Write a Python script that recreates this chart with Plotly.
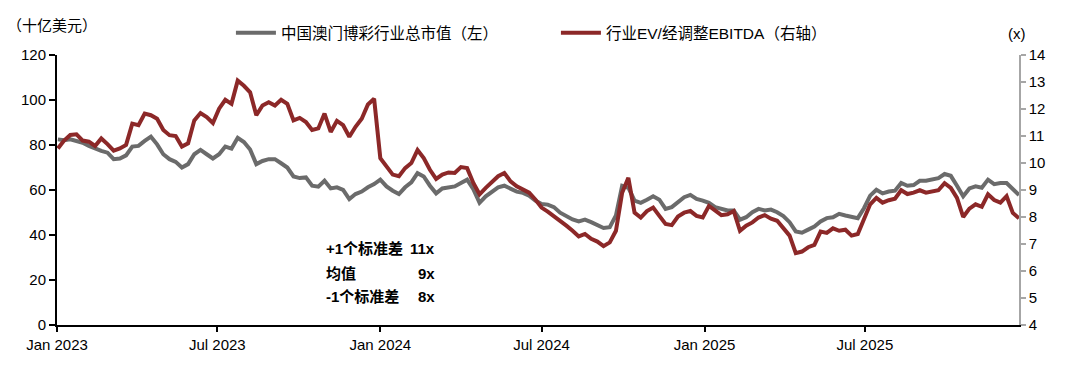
import plotly.graph_objects as go
import pandas as pd

# 中国澳门博彩行业总市值（十亿美元，左轴）— weekly readings
market_cap = [
    82.5, 82.1, 82.5, 81.9, 81.0, 79.6, 78.4, 77.4, 76.6, 73.7,
    74.0, 75.4, 79.3, 79.6, 81.8, 83.7, 80.3, 75.9, 73.7, 72.5,
    70.0, 71.5, 75.9, 77.8, 75.9, 74.0, 75.9, 79.3, 78.4, 83.2,
    81.3, 78.0, 71.5, 72.9, 73.7, 73.7, 71.9, 70.0, 66.0, 65.3,
    65.6, 61.9, 61.5, 64.1, 60.7, 61.2, 60.1, 56.0, 58.2, 59.3,
    61.2, 62.6, 64.6, 61.6, 59.7, 58.2, 61.2, 63.4, 67.5, 66.0,
    61.9, 58.5, 60.7, 61.2, 61.6, 63.1, 64.6, 60.4, 54.3, 57.2,
    59.0, 61.2, 61.9, 60.4, 59.3, 58.7, 57.5, 55.3, 53.8, 53.5,
    52.4, 49.9, 48.4, 46.9, 46.0, 46.8, 45.7, 44.3, 43.1, 43.5,
    48.7, 61.9, 61.0, 55.3, 54.3, 55.7, 57.2, 55.7, 51.6, 52.4,
    54.6, 56.8, 57.8, 56.0, 55.3, 54.3, 52.4, 51.6, 50.9, 50.9,
    46.8, 47.9, 50.1, 51.6, 50.9, 51.3, 50.1, 48.4, 45.7, 41.6,
    41.0, 42.4, 43.8, 46.0, 47.5, 47.9, 49.4, 48.7, 47.9, 47.5,
    51.9, 57.5, 60.1, 58.5, 59.3, 59.7, 63.1, 61.9, 62.2, 64.1,
    64.1, 64.6, 65.3, 67.1, 66.3, 61.9, 57.2, 60.7, 61.6, 61.0,
    64.6, 62.6, 63.1, 63.1, 60.7, 57.8,
]

# 行业EV/经调整EBITDA（x，右轴）— weekly readings
ev_ebitda = [
    10.54, 10.83, 11.04, 11.06, 10.83, 10.79, 10.63, 10.91, 10.70, 10.46,
    10.54, 10.67, 11.46, 11.40, 11.83, 11.77, 11.64, 11.22, 11.03, 11.00,
    10.61, 10.73, 11.58, 11.85, 11.70, 11.48, 12.01, 12.34, 12.19, 13.05,
    12.86, 12.62, 11.77, 12.13, 12.25, 12.13, 12.34, 12.19, 11.58, 11.67,
    11.52, 11.22, 11.28, 11.83, 11.15, 11.56, 11.40, 10.97, 11.34, 11.64,
    12.17, 12.38, 10.18, 9.85, 9.57, 9.51, 9.81, 10.00, 10.48, 10.18,
    9.75, 9.41, 9.57, 9.65, 9.63, 9.85, 9.81, 9.26, 8.84, 9.08,
    9.32, 9.51, 9.63, 9.32, 9.14, 9.02, 8.90, 8.65, 8.35, 8.20,
    8.04, 7.86, 7.68, 7.49, 7.28, 7.37, 7.19, 7.09, 6.92, 7.06,
    7.49, 8.90, 9.45, 8.16, 7.98, 8.22, 8.35, 8.04, 7.74, 7.70,
    8.02, 8.16, 8.22, 8.04, 7.98, 8.41, 8.22, 8.07, 8.10, 8.22,
    7.49, 7.68, 7.80, 7.98, 8.07, 7.94, 7.86, 7.61, 7.31, 6.66,
    6.72, 6.88, 6.97, 7.46, 7.41, 7.58, 7.49, 7.53, 7.31, 7.37,
    7.90, 8.47, 8.71, 8.53, 8.62, 8.68, 8.99, 8.85, 8.90, 8.99,
    8.90, 8.96, 8.99, 9.25, 9.08, 8.71, 8.00, 8.31, 8.47, 8.38,
    8.84, 8.63, 8.53, 8.77, 8.15, 7.95,
]

start_date = "2023-01-02"
dates = pd.date_range(start_date, periods=len(market_cap), freq="7D")

series_names = ["中国澳门博彩行业总市值（左）", "行业EV/经调整EBITDA（右轴）"]
stat_labels = ["+1个标准差", "均值", "-1个标准差"]
stat_values = ["11x", "9x", "8x"]
left_unit = "（十亿美元）"
right_unit = "(x)"

FONT = "Liberation Sans, Arial, Noto Sans CJK SC, sans-serif"
GRAY = "#6B6B6B"
RED = "#8C2828"

fig = go.Figure()
fig.add_trace(go.Scatter(x=dates, y=market_cap, name=series_names[0], mode="lines",
                         line=dict(color=GRAY, width=4), yaxis="y"))
fig.add_trace(go.Scatter(x=dates, y=ev_ebitda, name=series_names[1], mode="lines",
                         line=dict(color=RED, width=4), yaxis="y2"))

annotations = [
    dict(text=left_unit, xref="paper", yref="paper", x=-0.005, y=1.110,
         xanchor="center", yanchor="middle", showarrow=False, font=dict(size=15, color="#000")),
    dict(text=right_unit, xref="paper", yref="paper", x=0.998, y=1.0785,
         xanchor="center", yanchor="middle", showarrow=False, font=dict(size=15, color="#000")),
]
stat_y = [0.283, 0.191, 0.107]
for lab, val, yy in zip(stat_labels, stat_values, stat_y):
    annotations.append(dict(text="<b>%s</b>" % lab, xref="paper", yref="paper", x=0.2776, y=yy,
                            xanchor="left", yanchor="middle", showarrow=False,
                            font=dict(size=15, color="#000")))
    annotations.append(dict(text="<b>%s</b>" % val, xref="paper", yref="paper", x=0.3951, y=yy,
                            xanchor="right", yanchor="middle", showarrow=False,
                            font=dict(size=15, color="#000")))

fig.update_layout(
    width=1080, height=365,
    margin=dict(l=57, r=61, t=55, b=38),
    paper_bgcolor="white", plot_bgcolor="white",
    font=dict(family=FONT, size=15, color="#000"),
    showlegend=True,
    legend=dict(orientation="h", x=0.1808, xanchor="left", y=1.081, yanchor="middle",
                font=dict(size=15.5), bgcolor="rgba(0,0,0,0)",
                entrywidth=270, entrywidthmode="pixels", itemwidth=40),
    xaxis=dict(type="date", range=["2023-01-01", dates[-1]], tick0="2023-01-01", dtick="M6",
               tickformat="%b %Y", showline=True, linecolor="#000", linewidth=2,
               ticks="outside", ticklen=5, tickwidth=1.5, tickcolor="#000",
               showgrid=False, zeroline=False, tickfont=dict(size=15)),
    yaxis=dict(range=[0, 120], dtick=20, showline=True, linecolor="#000", linewidth=2,
               ticks="outside", ticklen=6, tickwidth=1.5, tickcolor="#000",
               showgrid=False, zeroline=False, tickfont=dict(size=15)),
    yaxis2=dict(range=[4, 14], dtick=1, overlaying="y", side="right", showline=True,
                linecolor="#A6A6A6", linewidth=1.5, ticks="outside", ticklen=5,
                tickwidth=1.5, tickcolor="#A6A6A6", showgrid=False, zeroline=False,
                tickfont=dict(size=15)),
    annotations=annotations,
)

fig.write_html("out.html", config={"displayModeBar": False},
               post_script="document.body.style.margin='0';")
